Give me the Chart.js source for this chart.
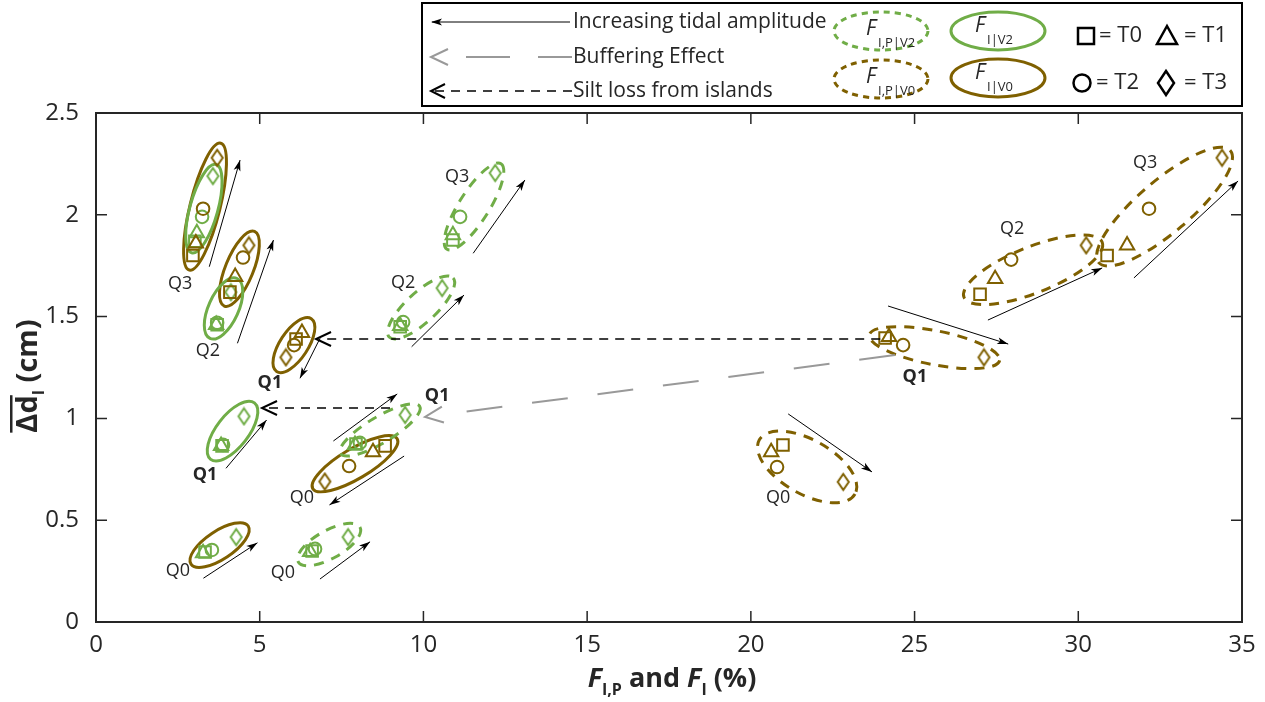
<!DOCTYPE html>
<html>
<head>
<meta charset="utf-8">
<script src="https://cdn.jsdelivr.net/npm/chart.js"></script>
<style>
  html, body { margin: 0; padding: 0; background: #fff; }
  #wrap { width: 1265px; height: 702px; }
</style>
</head>
<body>
<div id="wrap"><canvas id="chart"></canvas></div>
<script>
// quartiles Q0..Q3, each with T0..T3 values
const quartiles = ['Q0', 'Q1', 'Q2', 'Q3'];
const times = ['T0', 'T1', 'T2', 'T3'];

// F_I | V0 (solid brown)
const fI_V0 = [[8.83, 8.46, 7.73, 6.99], [6.11, 6.29, 6.05, 5.80], [4.09, 4.25, 4.49, 4.67], [2.96, 3.05, 3.27, 3.70]];
const dI_V0 = [[0.865, 0.835, 0.766, 0.69], [1.39, 1.42, 1.36, 1.30], [1.62, 1.695, 1.79, 1.85], [1.80, 1.86, 2.03, 2.28]];
// F_I | V2 (solid green)
const fI_V2 = [[3.33, 3.27, 3.54, 4.28], [3.85, 3.82, 3.88, 4.52], [3.70, 3.67, 3.70, 4.12], [3.02, 3.08, 3.24, 3.57]];
const dI_V2 = [[0.344, 0.339, 0.354, 0.417], [0.865, 0.865, 0.87, 1.01], [1.46, 1.46, 1.47, 1.62], [1.87, 1.91, 1.99, 2.19]];
// F_I,P | V0 (dashed brown)
const fIP_V0 = [[20.98, 20.62, 20.80, 22.82], [24.10, 24.22, 24.65, 27.12], [27.00, 27.46, 27.95, 30.24], [30.88, 31.49, 32.16, 34.39]];
const dIP_V0 = [[0.869, 0.835, 0.761, 0.688], [1.395, 1.40, 1.36, 1.30], [1.61, 1.685, 1.78, 1.85], [1.80, 1.85, 2.03, 2.28]];
// F_I,P | V2 (dashed green)
const fIP_V2 = [[6.60, 6.54, 6.69, 7.70], [7.94, 7.91, 8.06, 9.44], [9.29, 9.29, 9.38, 10.57], [10.90, 10.90, 11.12, 12.19]];
const dIP_V2 = [[0.349, 0.344, 0.359, 0.417], [0.874, 0.87, 0.88, 1.017], [1.45, 1.454, 1.473, 1.64], [1.876, 1.90, 1.99, 2.205]];

// annotation arrows [x1, y1, x2, y2] in data units (head at x2,y2)
const tidalArrows = [
  [3.46, 1.745, 4.40, 2.269], [4.32, 1.369, 5.42, 1.876], [6.84, 1.393, 6.23, 1.197],
  [3.97, 0.755, 5.21, 0.992], [7.25, 0.889, 9.20, 1.120], [9.41, 0.815, 7.13, 0.575],
  [3.28, 0.215, 4.93, 0.389], [6.84, 0.211, 8.37, 0.394], [9.64, 1.352, 11.24, 1.606],
  [11.52, 1.811, 13.10, 2.171], [21.14, 1.022, 23.70, 0.737], [24.19, 1.552, 27.86, 1.365],
  [27.24, 1.483, 30.73, 1.739], [31.70, 1.690, 34.88, 2.166]
];
const siltArrows = [[23.95, 1.39, 6.72, 1.39], [8.98, 1.051, 5.07, 1.051]];
const bufferArrows = [[24.40, 1.311, 10.05, 1.007]];

// quartile labels
const qText = ['Q3', 'Q2', 'Q1', 'Q1', 'Q0', 'Q0', 'Q0', 'Q1', 'Q2', 'Q3', 'Q0', 'Q1', 'Q2', 'Q3'];
const qX = [2.57, 3.42, 5.31, 3.33, 6.29, 2.50, 5.71, 10.42, 9.38, 11.03, 20.83, 25.01, 27.98, 32.04];
const qY = [1.66, 1.331, 1.174, 0.722, 0.609, 0.250, 0.241, 1.110, 1.665, 2.186, 0.609, 1.203, 1.930, 2.254];
const qBold = [0, 0, 1, 1, 0, 0, 0, 1, 0, 0, 0, 1, 0, 0];

// styling
const BROWN = '#7f6000', GREEN = '#70ad47', INK = '#262626', FONT = '"Open Sans", Lato, sans-serif';
// ellipse styles per quartile: [extra length px, half width px, extra rotation deg]
const ellI_V0 = [[14, 15, 0], [17, 14, 0], [15, 14, 0], [15, 15, 0]];
const ellI_V2 = [[16, 14, -8], [17, 16, 0], [15, 15, 0], [12, 14, 0]];
const ellIP_V0 = [[16, 27, 7], [16, 17, 0], [16, 23, 3], [11, 26, 0]];
const ellIP_V2 = [[15, 14, -8], [17, 13, 0], [15, 15, 0], [11, 15, 0]];
const ellColI_V2 = [BROWN, GREEN, GREEN, GREEN];

function diamondImg(color, w, h, lw) {
  const c = document.createElement('canvas');
  c.width = w + 4; c.height = h + 4;
  const g = c.getContext('2d');
  g.strokeStyle = color; g.lineWidth = lw;
  g.beginPath();
  g.moveTo(c.width / 2, 2); g.lineTo(c.width - 2, c.height / 2);
  g.lineTo(c.width / 2, c.height - 2); g.lineTo(2, c.height / 2); g.closePath();
  g.stroke();
  return c;
}
const dBrown = diamondImg(BROWN, 11, 16, 2);
const dGreen = diamondImg(GREEN, 11, 16, 2);

const groups = [
  { xs: fI_V0, ys: dI_V0, color: BROWN, ell: ellI_V0, ellCol: [BROWN, BROWN, BROWN, BROWN], dashed: false },
  { xs: fI_V2, ys: dI_V2, color: GREEN, ell: ellI_V2, ellCol: ellColI_V2, dashed: false },
  { xs: fIP_V0, ys: dIP_V0, color: BROWN, ell: ellIP_V0, ellCol: [BROWN, BROWN, BROWN, BROWN], dashed: true },
  { xs: fIP_V2, ys: dIP_V2, color: GREEN, ell: ellIP_V2, ellCol: [GREEN, GREEN, GREEN, GREEN], dashed: true }
];

const datasets = [];
groups.forEach(g => {
  quartiles.forEach((q, qi) => {
    datasets.push({
      label: q,
      data: times.map((t, i) => ({ x: g.xs[qi][i], y: g.ys[qi][i] })),
      pointStyle: ['rect', 'triangle', 'circle', g.color === BROWN ? dBrown : dGreen],
      pointRadius: [8.2, 8.3, 6.3, 8],
      pointBorderWidth: 2,
      borderColor: g.color,
      backgroundColor: 'rgba(0,0,0,0)',
      showLine: false
    });
  });
});

const ellipsePlugin = {
  id: 'ellipses',
  beforeDatasetsDraw(chart) {
    const ctx = chart.ctx, sx = chart.scales.x, sy = chart.scales.y;
    ctx.save();
    groups.forEach(g => {
      quartiles.forEach((q, qi) => {
        const p = g.xs[qi].map((v, i) => [sx.getPixelForValue(v), sy.getPixelForValue(g.ys[qi][i])]);
        let best = [0, 1], d = -1;
        for (let i = 0; i < p.length; i++) for (let j = i + 1; j < p.length; j++) {
          const dd = Math.hypot(p[j][0] - p[i][0], p[j][1] - p[i][1]);
          if (dd > d) { d = dd; best = [i, j]; }
        }
        const a = p[best[0]], b = p[best[1]];
        const st = g.ell[qi];
        const ang = Math.atan2(b[1] - a[1], b[0] - a[0]) + st[2] * Math.PI / 180;
        ctx.beginPath();
        ctx.ellipse((a[0] + b[0]) / 2, (a[1] + b[1]) / 2, d / 2 + st[0], st[1], ang, 0, Math.PI * 2);
        ctx.strokeStyle = g.ellCol[qi];
        ctx.lineWidth = 3;
        ctx.setLineDash(g.dashed ? [10, 8] : []);
        ctx.stroke();
      });
    });
    ctx.restore();
  }
};

function arrowHead(ctx, x1, y1, x2, y2, len, half, open) {
  const ang = Math.atan2(y2 - y1, x2 - x1);
  const bx = x2 - len * Math.cos(ang), by = y2 - len * Math.sin(ang);
  const px = -Math.sin(ang) * half, py = Math.cos(ang) * half;
  ctx.setLineDash([]);
  ctx.beginPath();
  if (open) {
    ctx.moveTo(bx + px, by + py); ctx.lineTo(x2, y2); ctx.lineTo(bx - px, by - py);
    ctx.stroke();
  } else {
    const nx = x2 - len * 0.75 * Math.cos(ang), ny = y2 - len * 0.75 * Math.sin(ang);
    ctx.moveTo(x2, y2); ctx.lineTo(bx + px, by + py); ctx.lineTo(nx, ny); ctx.lineTo(bx - px, by - py);
    ctx.closePath(); ctx.fill();
  }
}

const annotationPlugin = {
  id: 'annotations',
  afterDatasetsDraw(chart) {
    const ctx = chart.ctx, sx = chart.scales.x, sy = chart.scales.y;
    const P = (x, y) => [sx.getPixelForValue(x), sy.getPixelForValue(y)];
    ctx.save();
    // tidal amplitude arrows
    ctx.strokeStyle = '#000'; ctx.fillStyle = '#000'; ctx.lineWidth = 1;
    tidalArrows.forEach(a => {
      const [x1, y1] = P(a[0], a[1]), [x2, y2] = P(a[2], a[3]);
      ctx.setLineDash([]);
      ctx.beginPath(); ctx.moveTo(x1, y1); ctx.lineTo(x2, y2); ctx.stroke();
      arrowHead(ctx, x1, y1, x2, y2, 11, 3.5, false);
    });
    // silt loss
    siltArrows.forEach(a => {
      const [x1, y1] = P(a[0], a[1]), [x2, y2] = P(a[2], a[3]);
      ctx.strokeStyle = '#000'; ctx.lineWidth = 1.6;
      ctx.setLineDash([9, 7]);
      ctx.beginPath(); ctx.moveTo(x1, y1); ctx.lineTo(x2 + 4, y2); ctx.stroke();
      ctx.lineWidth = 2;
      arrowHead(ctx, x1, y1, x2, y2, 15, 7, true);
    });
    // buffering
    bufferArrows.forEach(a => {
      const [x1, y1] = P(a[0], a[1]), [x2, y2] = P(a[2], a[3]);
      ctx.strokeStyle = '#999'; ctx.lineWidth = 2;
      ctx.setLineDash([36, 30]);
      ctx.beginPath(); ctx.moveTo(x1, y1); ctx.lineTo(x2 + 30, y2 - 4); ctx.stroke();
      arrowHead(ctx, x1, y1, x2, y2, 18, 8, true);
    });
    // labels
    ctx.fillStyle = INK; ctx.textAlign = 'center'; ctx.textBaseline = 'middle';
    qText.forEach((t, i) => {
      ctx.font = (qBold[i] ? 'bold ' : '') + '18px ' + FONT;
      const [x, y] = P(qX[i], qY[i]);
      ctx.fillText(t, x, y);
    });
    ctx.restore();
  }
};

const framePlugin = {
  id: 'frame',
  afterDraw(chart) {
    const ctx = chart.ctx, a = chart.chartArea, sx = chart.scales.x, sy = chart.scales.y;
    ctx.save();
    ctx.strokeStyle = INK; ctx.lineWidth = 2; ctx.setLineDash([]);
    ctx.strokeRect(a.left, a.top, a.right - a.left, a.bottom - a.top);
    ctx.lineWidth = 1.5;
    sx.ticks.forEach(t => {
      const x = sx.getPixelForValue(t.value);
      ctx.beginPath(); ctx.moveTo(x, a.bottom); ctx.lineTo(x, a.bottom - 11);
      ctx.moveTo(x, a.top); ctx.lineTo(x, a.top + 11); ctx.stroke();
    });
    sy.ticks.forEach(t => {
      const y = sy.getPixelForValue(t.value);
      ctx.beginPath(); ctx.moveTo(a.left, y); ctx.lineTo(a.left + 11, y);
      ctx.moveTo(a.right, y); ctx.lineTo(a.right - 11, y); ctx.stroke();
    });

    // x axis title: F_I,P and F_I (%)
    ctx.fillStyle = INK; ctx.textBaseline = 'alphabetic'; ctx.textAlign = 'left';
    const big = 'bold 27px ' + FONT, bigI = 'italic bold 27px ' + FONT, sub = 'bold 16px ' + FONT;
    const parts = [[bigI, 'F', 0], [sub, 'I,P', 8], [big, ' and ', 0], [bigI, 'F', 0], [sub, 'I', 8], [big, ' (%)', 0]];
    let w = 0;
    parts.forEach(p => { ctx.font = p[0]; w += ctx.measureText(p[1]).width; });
    let x = (a.left + a.right) / 2 - w / 2 + 3;
    parts.forEach(p => { ctx.font = p[0]; ctx.fillText(p[1], x, 687 + p[2]); x += ctx.measureText(p[1]).width; });

    // y axis title: overline(Δd)_I (cm)
    ctx.save();
    ctx.translate(37, 376); ctx.rotate(-Math.PI / 2);
    const yparts = [['bold 29px ' + FONT, 'Δd', 0], ['bold 16px ' + FONT, 'I', 7], ['bold 29px ' + FONT, ' (cm)', 0]];
    w = 0;
    yparts.forEach(p => { ctx.font = p[0]; w += ctx.measureText(p[1]).width; });
    x = -w / 2;
    yparts.forEach((p, i) => {
      ctx.font = p[0];
      const tw = ctx.measureText(p[1]).width;
      ctx.fillText(p[1], x, p[2]);
      if (i === 0) { ctx.fillRect(x, -27, tw, 2.5); }
      x += tw;
    });
    ctx.restore();

    // legend box
    ctx.lineWidth = 2; ctx.strokeStyle = '#000';
    ctx.strokeRect(422, 3, 820, 103);
    // row 1: tidal arrow
    ctx.fillStyle = '#000'; ctx.lineWidth = 1;
    ctx.beginPath(); ctx.moveTo(570, 22); ctx.lineTo(432, 22); ctx.stroke();
    arrowHead(ctx, 570, 22, 431, 22, 11, 3.5, false);
    // row 2: buffering
    ctx.strokeStyle = '#999'; ctx.lineWidth = 2;
    arrowHead(ctx, 470, 57, 431, 57, 17, 8, true);
    ctx.beginPath(); ctx.moveTo(466, 57); ctx.lineTo(510, 57); ctx.moveTo(538, 57); ctx.lineTo(572, 57); ctx.stroke();
    // row 3: silt loss
    ctx.strokeStyle = '#000'; ctx.lineWidth = 1.6;
    ctx.setLineDash([9, 7]);
    ctx.beginPath(); ctx.moveTo(572, 91); ctx.lineTo(434, 91); ctx.stroke();
    ctx.lineWidth = 2;
    arrowHead(ctx, 572, 91, 431, 91, 14, 7, true);
    ctx.setLineDash([]);
    ctx.fillStyle = INK; ctx.font = '21px ' + FONT; ctx.textBaseline = 'middle';
    ctx.fillText('Increasing tidal amplitude', 573, 22);
    ctx.fillText('Buffering Effect', 573, 57);
    ctx.fillText('Silt loss from islands', 573, 91);

    // ellipse keys
    const keys = [[881, 31, GREEN, true, 'I,P|V2'], [998, 31, GREEN, false, 'I|V2'],
                  [881, 79, BROWN, true, 'I,P|V0'], [998, 78, BROWN, false, 'I|V0']];
    keys.forEach(k => {
      ctx.strokeStyle = k[2]; ctx.lineWidth = 3;
      ctx.setLineDash(k[3] ? [6, 5] : []);
      ctx.beginPath(); ctx.ellipse(k[0], k[1], 47, 19, 0, 0, Math.PI * 2); ctx.stroke();
      ctx.setLineDash([]);
      ctx.fillStyle = INK; ctx.textBaseline = 'alphabetic';
      const fx = k[3] ? k[0] - 15 : k[0] - 23, fy = k[3] ? k[1] + 4 : k[1] + 1;
      ctx.font = 'italic 21px ' + FONT; ctx.fillText('F', fx, fy);
      ctx.font = '13px ' + FONT; ctx.fillText(k[4], fx + 12, fy + 12);
    });

    // marker keys
    ctx.strokeStyle = '#000'; ctx.lineWidth = 2.5;
    ctx.strokeRect(1078, 28, 16, 16);
    ctx.beginPath(); ctx.moveTo(1167, 26); ctx.lineTo(1177, 44); ctx.lineTo(1157, 44); ctx.closePath(); ctx.stroke();
    ctx.beginPath(); ctx.arc(1082, 83, 8.5, 0, Math.PI * 2); ctx.stroke();
    ctx.beginPath(); ctx.moveTo(1166, 71); ctx.lineTo(1174, 83); ctx.lineTo(1166, 95); ctx.lineTo(1158, 83); ctx.closePath(); ctx.stroke();
    ctx.fillStyle = INK; ctx.font = '22px ' + FONT; ctx.textBaseline = 'middle';
    ctx.fillText('= T0', 1099, 36);
    ctx.fillText('= T1', 1184, 36);
    ctx.fillText('= T2', 1096, 83);
    ctx.fillText('= T3', 1184, 83);
    ctx.restore();
  }
};

new Chart(document.getElementById('chart').getContext('2d'), {
  type: 'scatter',
  data: { datasets },
  options: {
    responsive: true,
    maintainAspectRatio: false,
    animation: false,
    layout: { padding: { top: 113, right: 23, left: 0, bottom: 0 } },
    plugins: { legend: { display: false }, tooltip: { enabled: false } },
    scales: {
      x: {
        type: 'linear', min: 0, max: 35,
        ticks: { stepSize: 5, color: INK, font: { family: FONT, size: 24 }, padding: 1, maxRotation: 0 },
        grid: { display: false }, border: { display: false },
        afterFit(s) { s.height = 80; }
      },
      y: {
        min: 0, max: 2.5,
        ticks: { stepSize: 0.5, color: INK, font: { family: FONT, size: 24 }, padding: 9, callback: v => String(v) },
        grid: { display: false }, border: { display: false },
        afterFit(s) { s.width = 96; }
      }
    }
  },
  plugins: [ellipsePlugin, annotationPlugin, framePlugin]
});
</script>
</body>
</html>
